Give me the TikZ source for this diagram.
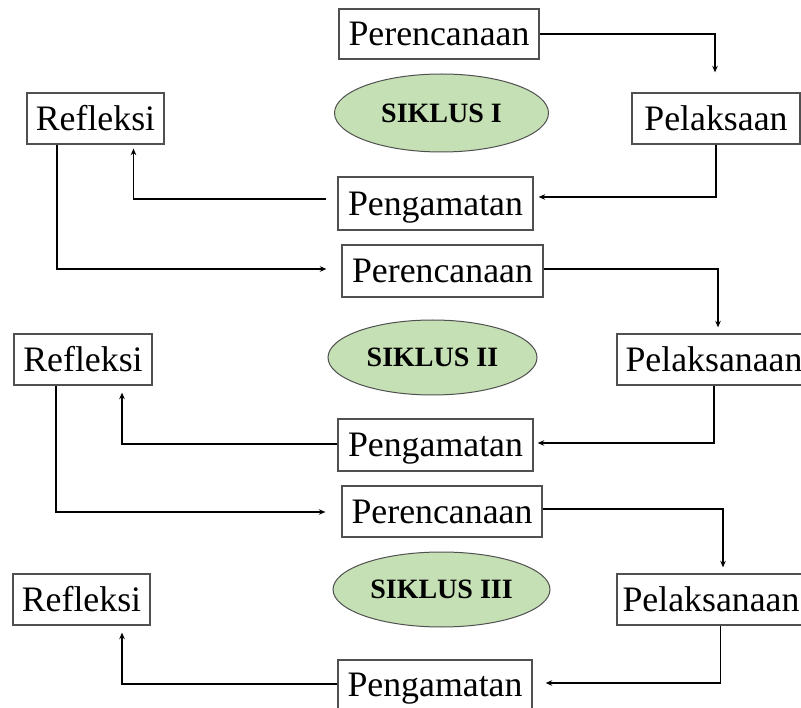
\documentclass[tikz,border=0pt]{standalone}
\usepackage{fontspec}
\setmainfont{Liberation Serif}
\usetikzlibrary{arrows.meta,shapes.geometric}
\definecolor{boxline}{HTML}{505050}
\definecolor{ellfill}{HTML}{C5E0B4}
\tikzset{
  stagebox/.style={draw=boxline, line width=1.3pt, fill=white, inner sep=0pt,
    font=\fontsize{35.8}{40}\selectfont, text height=23.7pt, text depth=0pt},
  cyc/.style={ellipse, draw=boxline, line width=1pt, fill=ellfill, inner sep=0pt,
    font=\fontsize{28}{32}\selectfont\bfseries, text height=18.6pt, text depth=0pt},
  arr/.style={draw=black, line width=1.8pt, -{Stealth[length=6.5pt,width=5.5pt]}}
}
\begin{document}
\begin{tikzpicture}[x=1pt,y=-1pt]
\path[use as bounding box, clip] (0,0) rectangle (801,708);
\fill[white] (0,0) rectangle (801,708);
% cycle I
\node[stagebox, minimum width=200pt, minimum height=50pt] (per1) at (439,34) {Perencanaan};
\node[stagebox, minimum width=168pt, minimum height=51pt] (pel1) at (716,118.5) {Pelaksaan};
\node[stagebox, minimum width=195pt, minimum height=53pt] (pen1) at (435.5,203.5) {Pengamatan};
\node[stagebox, minimum width=137pt, minimum height=51pt] (ref1) at (95.5,118.5) {Refleksi};
\node[cyc, minimum width=214pt, minimum height=78pt] (ell1) at (441.5,113) {SIKLUS I};
% cycle II
\node[stagebox, minimum width=201pt, minimum height=52pt] (per2) at (442.5,271) {Perencanaan};
\node[stagebox, minimum width=194pt, minimum height=51pt] (pel2) at (714,359.5) {Pelaksanaan};
\node[stagebox, minimum width=195pt, minimum height=52pt] (pen2) at (435.5,445) {Pengamatan};
\node[stagebox, minimum width=138pt, minimum height=51pt] (ref2) at (83,359.5) {Refleksi};
\node[cyc, minimum width=209pt, minimum height=75pt] (ell2) at (432.5,357.5) {SIKLUS II};
% cycle III
\node[stagebox, minimum width=200pt, minimum height=51pt] (per3) at (442,511.5) {Perencanaan};
\node[stagebox, minimum width=188pt, minimum height=51pt] (pel3) at (711,599.5) {Pelaksanaan};
\node[stagebox, minimum width=194pt, minimum height=50pt] (pen3) at (435,685) {Pengamatan};
\node[stagebox, minimum width=137pt, minimum height=51pt] (ref3) at (81.5,599.5) {Refleksi};
\node[cyc, minimum width=217pt, minimum height=75pt] (ell3) at (441.5,589.5) {SIKLUS III};
% connectors cycle I
\draw[arr, shorten >=20pt] (per1.east) -| ([xshift=-1pt]pel1.north);
\draw[arr, shorten >=5pt] (pel1.south) |- ([yshift=6.5pt]pen1.east);
\draw[arr, shorten >=4pt] ([xshift=-11pt,yshift=4.5pt]pen1.west) -| ([xshift=38pt]ref1.south);
\draw[arr, shorten >=15pt] ([xshift=-38.5pt]ref1.south) |- ([yshift=2pt]per2.west);
% connectors cycle II
\draw[arr, shorten >=6pt] ([yshift=2pt]per2.east) -| ([xshift=4pt]pel2.north);
\draw[arr, shorten >=4pt] (pel2.south) |- ([yshift=2pt]pen2.east);
\draw[arr, shorten >=7pt] ([yshift=1pt]pen2.west) -| ([xshift=39pt]ref2.south);
\draw[arr, shorten >=16pt] ([xshift=-27pt]ref2.south) |- ([yshift=-0.5pt]per3.west);
% connectors cycle III
\draw[arr, shorten >=6pt] ([yshift=2.5pt]per3.east) -| ([xshift=12pt]pel3.north);
\draw[arr, shorten >=13pt] ([xshift=9.5pt]pel3.south) |- ([yshift=2pt]pen3.east);
\draw[arr, shorten >=7pt] ([yshift=1pt]pen3.west) -| ([xshift=40.5pt]ref3.south);
\end{tikzpicture}
\end{document}
